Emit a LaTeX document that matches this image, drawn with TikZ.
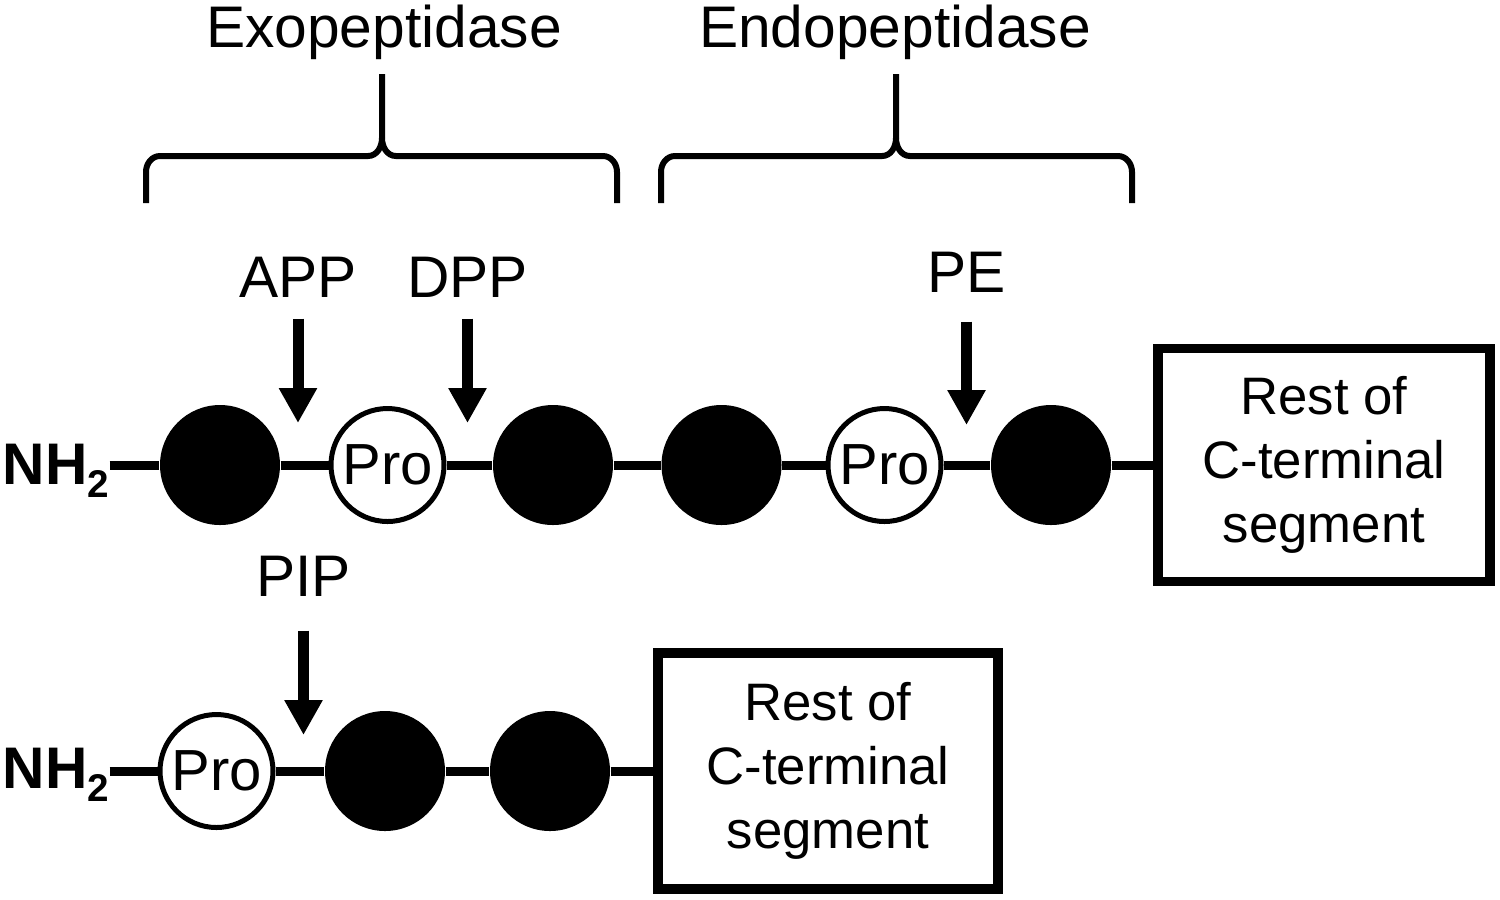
\documentclass[tikz,border=0pt]{standalone}
\usepackage{fontspec}
\setmainfont{Liberation Sans}
\usetikzlibrary{arrows.meta}

\begin{document}
\begin{tikzpicture}[x=0.1mm,y=-0.1mm]
    \tikzset{
      label/.style={font=\fontsize{16.7}{20}\selectfont, inner sep=0, anchor=base},
      term/.style={font=\fontsize{16.7}{20}\selectfont\bfseries, inner sep=0, anchor=base west},
      res/.style={circle, fill=black, minimum size=12mm, inner sep=0},
      pro/.style={circle, draw, fill=white, line width=0.5mm, minimum size=11.3mm, inner sep=0,
                  font=\fontsize{16.5}{20}\selectfont},
      rest/.style={draw, line width=0.95mm, align=center, inner sep=0,
                   font=\fontsize{15}{18.2}\selectfont},
      chain/.style={line width=0.9mm},
      cut/.style={-{Triangle[width=3.6mm,length=3.5mm]}, line width=1.1mm},
      brace/.style={line width=0.6mm}
    }
    \useasboundingbox (0,0) rectangle (1500,899);

    % enzyme classes
    \node[label] (exo) at (384,47) {Exopeptidase};
    \node[label] (endo) at (895,47) {Endopeptidase};
    \draw[brace] (146,203) -- (146,172) to[out=90,in=180] (160,156) -- (368,156)
      to[out=0,in=-90] (382,138) -- (382,74);
    \draw[brace] (617,203) -- (617,172) to[out=90,in=0] (603,156) -- (396,156)
      to[out=180,in=-90] (382,138);
    \draw[brace] (661,203) -- (661,172) to[out=90,in=180] (675,156) -- (882,156)
      to[out=0,in=-90] (896,138) -- (896,74);
    \draw[brace] (1132,203) -- (1132,172) to[out=90,in=0] (1118,156) -- (910,156)
      to[out=180,in=-90] (896,138);

    % enzymes
    \node[label] (app) at (298,297) {APP};
    \node[label] (dpp) at (467.5,297) {DPP};
    \node[label] (pe) at (966.5,292) {PE};
    \node[label] (pip) at (303.5,596) {PIP};
    \coordinate (appTip) at (298,423);
    \coordinate (dppTip) at (467.5,423);
    \coordinate (peTip) at (966.5,425);
    \coordinate (pipTip) at (303.5,735);

    % first peptide
    \node[term] (nh1) at (2,484) {NH\raisebox{-1.3mm}{\fontsize{11}{12}\selectfont 2}};
    \node[res] (a1) at (220,465) {};
    \node[pro] (p1) at (387.5,465) {Pro};
    \node[res] (a2) at (553,465) {};
    \node[res] (a3) at (721.5,465) {};
    \node[pro] (p2) at (884.5,465) {Pro};
    \node[res] (a4) at (1051,465) {};
    \node[rest, minimum width=33.2mm, minimum height=23.3mm] (rest1) at (1324,465)
      {Rest of\\C-terminal\\segment};

    % second peptide
    \node[term] (nh2) at (2,788) {NH\raisebox{-1.3mm}{\fontsize{11}{12}\selectfont 2}};
    \node[pro] (p3) at (216.5,771) {Pro};
    \node[res] (b1) at (385,771) {};
    \node[res] (b2) at (550,771) {};
    \node[rest, minimum width=34mm, minimum height=23.6mm] (rest2) at (828,771)
      {Rest of\\C-terminal\\segment};

    % bonds
    \draw[chain] (nh1.east |- a1) -- (a1);
    \draw[chain] (a1) -- (p1);
    \draw[chain] (p1) -- (a2);
    \draw[chain] (a2) -- (a3);
    \draw[chain] (a3) -- (p2);
    \draw[chain] (p2) -- (a4);
    \draw[chain] (a4) -- (rest1);
    \draw[chain] (nh2.east |- p3) -- (p3);
    \draw[chain] (p3) -- (b1);
    \draw[chain] (b1) -- (b2);
    \draw[chain] (b2) -- (rest2);

    % cleavage sites
    \draw[cut, shorten <=2.1mm] (app) -- (appTip);
    \draw[cut, shorten <=2.1mm] (dpp) -- (dppTip);
    \draw[cut, shorten <=2.9mm] (pe) -- (peTip);
    \draw[cut, shorten <=3.4mm] (pip) -- (pipTip);
\end{tikzpicture}
\end{document}
